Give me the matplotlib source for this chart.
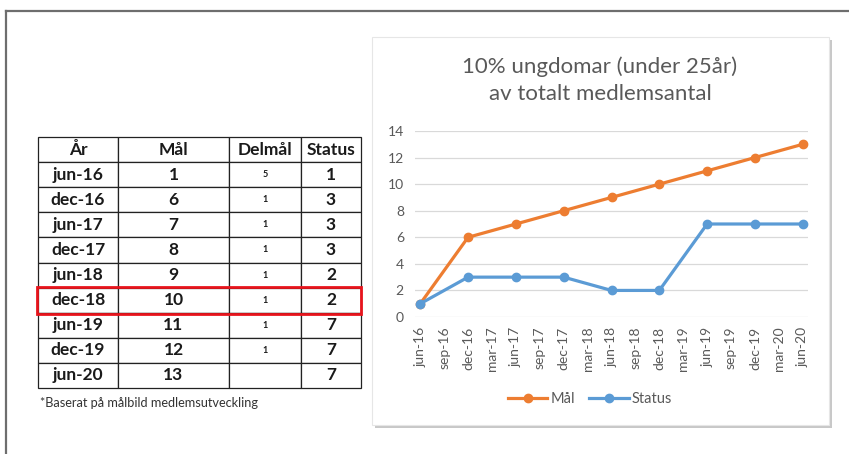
import matplotlib.pyplot as plt
from matplotlib.patches import Rectangle

plt.rcParams['font.family'] = ['Lato', 'DejaVu Sans']

# table data
table_cols = ['År', 'Mål', 'Delmål', 'Status']
periods = ['jun-16', 'dec-16', 'jun-17', 'dec-17', 'jun-18', 'dec-18', 'jun-19', 'dec-19', 'jun-20']
mal = [1, 6, 7, 8, 9, 10, 11, 12, 13]
delmal = ['5', '1', '1', '1', '1', '1', '1', '1', '']
status = [1, 3, 3, 3, 2, 2, 7, 7, 7]
highlight = 'dec-18'

# chart axis labels (quarterly)
quarter_labels = ['jun-16', 'sep-16', 'dec-16', 'mar-17', 'jun-17', 'sep-17', 'dec-17', 'mar-18',
                  'jun-18', 'sep-18', 'dec-18', 'mar-19', 'jun-19', 'sep-19', 'dec-19', 'mar-20', 'jun-20']

title = '10% ungdomar (under 25år)\nav totalt medlemsantal'
footnote = '*Baserat på målbild medlemsutveckling'

W, H = 849, 454
fig = plt.figure(figsize=(W / 100, H / 100), dpi=100)

# background in pixel coords
bg = fig.add_axes([0, 0, 1, 1])
bg.set_xlim(0, W)
bg.set_ylim(H, 0)
bg.axis('off')
bg.plot([6, W], [11, 11], color='#6e6e6e', lw=1.6)
bg.plot([6, 6], [11, H], color='#6e6e6e', lw=1.6)

# chart box with shadow
bg.add_patch(Rectangle((375, 40), 457, 388, facecolor='#c8c8c8', edgecolor='none'))
bg.add_patch(Rectangle((372, 37), 457, 388, facecolor='white', edgecolor='#e6e6e6', lw=0.8))

bg.text(40, 403, footnote, fontsize=9.2, color='#333333', va='center', ha='left')

# table
tax = fig.add_axes([38 / W, 1 - 388 / H, 323 / W, 251 / H])
tax.axis('off')
cells = [[p, str(m), d, str(s)] for p, m, d, s in zip(periods, mal, delmal, status)]
tbl = tax.table(cellText=cells, colLabels=table_cols, bbox=[0, 0, 1, 1],
                colWidths=[80, 111, 72, 60], cellLoc='center')
tbl.auto_set_font_size(False)
for (r, c), cell in tbl.get_celld().items():
    cell.set_linewidth(0.9)
    cell.set_edgecolor('#222222')
    txt = cell.get_text()
    txt.set_fontweight('bold')
    txt.set_color('#1a1a1a')
    if c == 2 and r > 0:
        txt.set_fontsize(6.5)
    else:
        txt.set_fontsize(12.5)

# highlight row
hi = periods.index(highlight) + 1
nrows = len(periods) + 1
tax.add_patch(Rectangle((-0.003, 1 - (hi + 1) / nrows - 0.004), 1.003, 1 / nrows + 0.008,
                        transform=tax.transAxes, facecolor='none', edgecolor='#e8141c',
                        lw=2, zorder=10, clip_on=False))

# chart
ax = fig.add_axes([415 / W, 1 - 317 / H, 393 / W, 186 / H])
x_idx = [quarter_labels.index(p) for p in periods]
ax.plot(x_idx, mal, color='#ED7D31', lw=2.3, marker='o', ms=6, label='Mål')
ax.plot(x_idx, status, color='#5B9BD5', lw=2.3, marker='o', ms=6, label='Status')
ax.set_xlim(-0.22, 16.22)
ax.set_ylim(0, 14)
ax.set_yticks(range(0, 15, 2))
ax.set_xticks(range(len(quarter_labels)))
ax.set_xticklabels(quarter_labels, rotation=90, fontsize=10, color='#595959')
ax.tick_params(axis='y', labelsize=10, labelcolor='#595959', length=0, pad=8)
ax.tick_params(axis='x', length=0, pad=7)
ax.grid(axis='y', color='#d9d9d9', lw=0.9)
ax.set_axisbelow(True)
for s in ax.spines.values():
    s.set_visible(False)
ax.set_facecolor('none')

fig.text(600 / W, 1 - 80 / H, title, ha='center', va='center', fontsize=16,
         color='#595959', linespacing=1.45)

fig.legend(loc='center', bbox_to_anchor=(590 / W, 1 - 399 / H), ncol=2, frameon=False,
           fontsize=10.5, handlelength=2.7, columnspacing=1.0, handletextpad=0.2,
           labelcolor='#595959')

fig.savefig('out.png', dpi=100)
